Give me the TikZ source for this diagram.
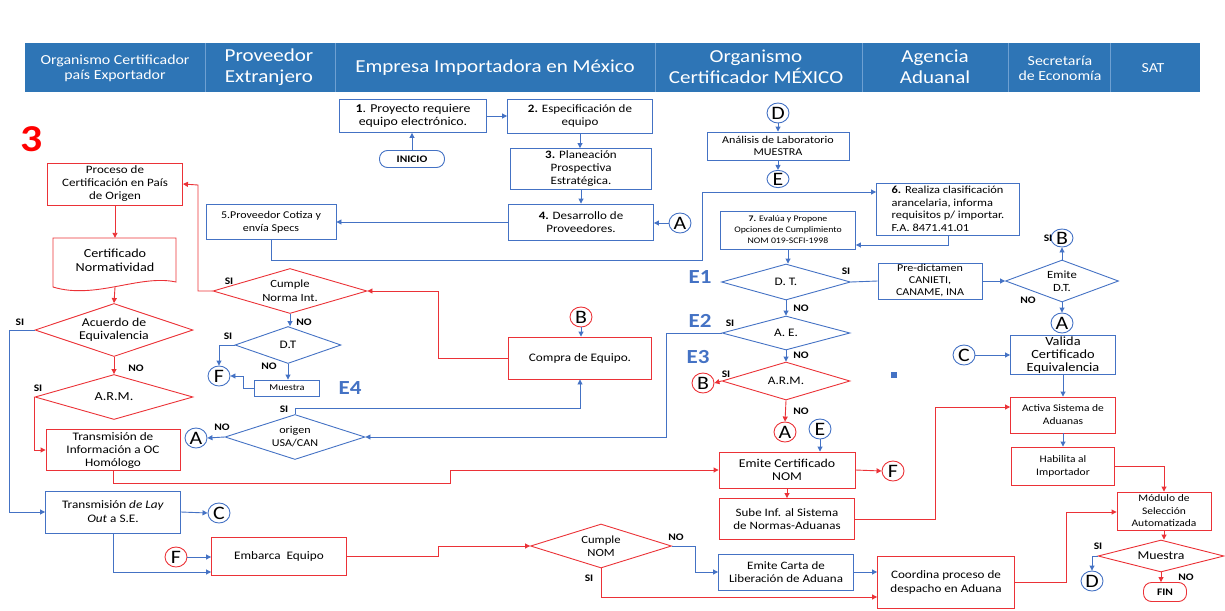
\documentclass[tikz,border=0pt]{standalone}
\usepackage{fontspec}
\setmainfont{Carlito}[FakeStretch=1.15]
\usetikzlibrary{shapes.geometric,arrows.meta}
\definecolor{hdrblue}{RGB}{46,117,182}
\definecolor{hdrline}{RGB}{110,160,210}
\definecolor{lnblue}{RGB}{68,114,196}
\definecolor{lnred}{RGB}{235,50,55}
\begin{document}
\begin{tikzpicture}[x=1pt, y=-1pt,
  bx/.style={draw=lnblue, line width=0.9pt, align=center, inner sep=1pt, font=\fontsize{11.3}{13}\selectfont},
  rbx/.style={bx, draw=lnred},
  dia/.style={draw=lnblue, line width=0.9pt, shape=diamond, inner sep=0pt, align=center, font=\fontsize{11.5}{13}\selectfont},
  rdia/.style={dia, draw=lnred},
  con/.style={draw=lnblue, line width=0.9pt, ellipse, inner sep=0pt, minimum width=22, minimum height=20, font=\fontsize{19}{19}\selectfont},
  rcon/.style={con, draw=lnred},
  term/.style={line width=0.9pt, rounded corners=8pt, inner sep=0pt, font=\fontsize{10}{10}\selectfont\bfseries},
  bar/.style={lnblue, line width=0.9pt, -{Triangle[length=5pt,width=5pt]}},
  rar/.style={lnred, line width=0.9pt, -{Triangle[length=5pt,width=5pt]}},
  bl/.style={lnblue, line width=0.9pt},
  rl/.style={lnred, line width=0.9pt},
  yn/.style={font=\fontsize{10}{10}\selectfont\bfseries, inner sep=0pt},
  etag/.style={text=lnblue, font=\fontsize{20}{20}\selectfont\bfseries, inner sep=0pt},
  hd/.style={text=white, align=center, font=\fontsize{18.3}{21}\selectfont},
  hds/.style={hd, font=\fontsize{13.8}{15}\selectfont}]
\useasboundingbox (0,0) rectangle (1225,610);
\fill[hdrblue] (25,43) rectangle (1200,92);
\foreach \xd in {205,335,655,862,1008,1110}
  \draw[hdrline, line width=0.6pt] (\xd,43) -- (\xd,92);
\node[hds] (h1) at (115,68) {Organismo Certificador\\país Exportador};
\node[hd] (h2) at (269,67) {Proveedor\\Extranjero};
\node[hd] (h3) at (495,68) {Empresa Importadora en México};
\node[hd] (h4) at (756,67) {Organismo\\Certificador MÉXICO};
\node[hd] (h5) at (935,67) {Agencia\\Aduanal};
\node[hds] (h6) at (1060,68) {Secretaría\\de Economía};
\node[hds] (h7) at (1153,68) {SAT};
\node[text=red, font=\fontsize{38}{38}\selectfont\bfseries] (num) at (32,139) {3};

\node[bx, font=\fontsize{12}{13}\selectfont, minimum width=147, minimum height=33] (p1) at (413,116) {\textbf{1}. Proyecto requiere\\equipo electrónico.};
\node[term, draw=lnblue, minimum width=65, minimum height=17] (ini) at (412,159) {INICIO};
\node[bx, minimum width=145, minimum height=34] (p2) at (580,116) {\textbf{2.} Especificación de\\equipo};
\node[bx, minimum width=141, minimum height=41] (p3) at (581,169) {\textbf{3.} Planeación\\Prospectiva\\Estratégica.};
\node[bx, minimum width=145, minimum height=36] (p4) at (581,222) {\textbf{4.} Desarrollo de\\Proveedores.};
\node[con] (ca1) at (680,223) {A};
\node[bx, font=\fontsize{10.4}{13}\selectfont, minimum width=130, minimum height=35] (p5) at (271,222) {5.Proveedor Cotiza y\\envía Specs};
\node[con] (cd1) at (778,113) {D};
\node[bx, font=\fontsize{10.5}{12.5}\selectfont, minimum width=142, minimum height=28] (lab) at (778,146) {Análisis de Laboratorio\\MUESTRA};
\node[con, minimum height=17] (ce1) at (778,179) {E};
\node[bx, font=\fontsize{10.8}{12.5}\selectfont, align=left, minimum width=143, minimum height=52] (p6) at (948,209) {\textbf{6.} Realiza clasificación\\arancelaria, informa\\requisitos p/ importar.\\F.A. 8471.41.01};
\node[bx, font=\fontsize{8.5}{11}\selectfont, minimum width=135, minimum height=38] (p7) at (788,230) {\textbf{7.} Evalúa y Propone\\Opciones de Cumplimiento\\NOM 019-SCFI-1998};
\node[dia, minimum width=129, minimum height=36, aspect=3.6] (dt1) at (786,282) {D. T.};
\node[bx, font=\fontsize{10.5}{12}\selectfont, minimum width=104, minimum height=36] (pre) at (930,281) {Pre-dictamen\\CANIETI,\\CANAME, INA};
\node[dia, font=\fontsize{11}{13}\selectfont, minimum width=113, minimum height=42, aspect=2.7] (edt) at (1062,281) {Emite\\D.T.};
\node[con, minimum height=18] (cb1) at (1062,238) {B};
\node[con] (ca2) at (1062,323) {A};
\node[dia, minimum width=128, minimum height=34, aspect=3.7] (ae) at (786,333) {A. E.};
\node[rdia, minimum width=128, minimum height=38, aspect=3.4] (arm1) at (786,381) {A.R.M.};
\node[rcon] (cb2) at (703,383) {B};
\node[rcon] (ca3) at (785,432) {A};
\node[con] (ce2) at (820,429) {E};
\node[rbx, font=\fontsize{12}{13.5}\selectfont, minimum width=136, minimum height=36] (ecn) at (787,470) {Emite Certificado\\NOM};
\node[rcon] (cf1) at (893,471) {F};
\node[rbx, minimum width=135, minimum height=41] (sube) at (787,519) {Sube Inf. al Sistema\\de Normas-Aduanas};
\fill[lnblue] (891,372) rectangle (897,378);

\node[bx, font=\fontsize{12.5}{13}\selectfont, minimum width=105, minimum height=39] (val) at (1063,355) {Valida\\Certificado\\Equivalencia};
\node[con] (cc1) at (964,355) {C};
\node[rbx, font=\fontsize{10}{13}\selectfont, minimum width=105, minimum height=36] (act) at (1063,415) {Activa Sistema de\\Aduanas};
\node[rbx, font=\fontsize{10}{13}\selectfont, minimum width=103, minimum height=38] (hab) at (1063,466) {Habilita al\\Importador};
\node[rbx, font=\fontsize{10}{12.5}\selectfont, minimum width=94, minimum height=38] (mod) at (1164,511) {Módulo de\\Selección\\Automatizada};
\node[rdia, font=\fontsize{12}{14}\selectfont, minimum width=126, minimum height=32, aspect=3.9] (mue) at (1161,556) {Muestra};
\node[con] (cd2) at (1092,581) {D};
\node[term, draw=lnred, minimum width=43, minimum height=19] (fin) at (1165,592) {FIN};
\node[rdia, font=\fontsize{11}{13}\selectfont, minimum width=141, minimum height=44, aspect=3.2] (cnom) at (601,546) {Cumple\\NOM};
\node[bx, minimum width=135, minimum height=36] (carta) at (786,572) {Emite Carta de\\Liberación de Aduana};
\node[rbx, font=\fontsize{11.4}{14}\selectfont, minimum width=137, minimum height=52] (coord) at (946,582) {Coordina proceso de\\despacho en Aduana};

\node[rbx, font=\fontsize{11.5}{13}\selectfont, minimum width=135, minimum height=38] (emb) at (279,556) {Embarca~~Equipo};
\node[rcon] (cf2) at (176,557) {F};
\node[bx, font=\fontsize{11.5}{14}\selectfont, minimum width=135, minimum height=42] (lay) at (113,512) {Transmisión \textit{de Lay}\\\textit{Out} a S.E.};
\node[con] (cc2) at (219,513) {C};
\node[rbx, font=\fontsize{11.5}{13}\selectfont, minimum width=134, minimum height=41] (tio) at (113,450) {Transmisión de\\Información a OC\\Homólogo};
\node[con] (ca4) at (196,438) {A};
\node[dia, font=\fontsize{10.5}{13}\selectfont, minimum width=140, minimum height=45, aspect=3.1] (orig) at (295,437) {origen\\USA/CAN};
\node[rdia, font=\fontsize{11}{14}\selectfont, minimum width=154, minimum height=45, aspect=3.4] (cni) at (290,291) {Cumple\\Norma Int.};
\node[dia, minimum width=106, minimum height=37, aspect=2.9] (dt2) at (288,345) {D.T};
\node[con] (cf3) at (219,376) {F};
\node[bx, font=\fontsize{9}{10}\selectfont, minimum width=65, minimum height=16] (mst) at (287,388) {Muestra};
\node[rbx, font=\fontsize{11.5}{13}\selectfont, minimum width=143, minimum height=42] (comp) at (580,358) {Compra de Equipo.};
\node[rcon] (cb3) at (581,317) {B};
\node[rbx, minimum width=135, minimum height=42] (proc) at (115,184) {Proceso de\\Certificación en País\\de Origen};
\draw[rl] (53,238) -- (176,238) -- (176,282) .. controls (140,274) and (95,300) .. (53,287) -- cycle;
\node[align=center, inner sep=0pt, font=\fontsize{12.3}{14}\selectfont, minimum width=123, minimum height=44] (certn) at (115,260) {Certificado\\Normatividad};
\node[rdia, font=\fontsize{12}{13}\selectfont, minimum width=158, minimum height=53, aspect=3.0] (acu) at (114,330) {Acuerdo de\\Equivalencia};
\node[rdia, font=\fontsize{12.3}{13}\selectfont, minimum width=158, minimum height=45, aspect=3.5] (arm2) at (114,397) {A.R.M.};

\node[etag] (e1) at (700,277) {E1};
\node[etag] (e2) at (700,321) {E2};
\node[etag] (e3) at (698,357) {E3};
\node[etag] (e4) at (350,388) {E4};

\node[yn] (s1) at (846,271) {SI};
\node[yn] (n1) at (801,308) {NO};
\node[yn] (s2) at (730,323) {SI};
\node[yn] (n2) at (801,355) {NO};
\node[yn] (s3) at (726,374) {SI};
\node[yn] (n3) at (801,411) {NO};
\node[yn] (s4) at (1048,238) {SI};
\node[yn] (n4) at (1028,300) {NO};
\node[yn] (n5) at (676,537) {NO};
\node[yn] (s5) at (589,578) {SI};
\node[yn] (s6) at (1098,546) {SI};
\node[yn] (n6) at (1186,577) {NO};
\node[yn] (s7) at (229,281) {SI};
\node[yn] (n7) at (304,322) {NO};
\node[yn] (s8) at (228,336) {SI};
\node[yn] (n8) at (269,366) {NO};
\node[yn] (n9) at (222,427) {NO};
\node[yn] (s9) at (284,409) {SI};
\node[yn] (s10) at (20,322) {SI};
\node[yn] (n10) at (136,368) {NO};
\node[yn] (s11) at (38,388) {SI};

\draw[bar] (ini.north) -- (ini.north |- p1.south);
\draw[bar] (p1.east) -- (p2.west);
\draw[bar] (p2.south) -- (p2.south |- p3.north);
\draw[bar] (p3.south) -- (p3.south |- p4.north);
\draw[bar] (ca1.west) -- (ca1.west -| p4.east);
\draw[bar] (p4.west) -- (p4.west -| p5.east);
\draw[bar] (p5.south) |- (702,260) |- (p6.west |- 0,192);
\draw[bar] (cd1.south) -- (lab.north);
\draw[bar] (lab.south) -- (ce1.north);
\draw[bar] (p6.south) |- (p7.east |- 0,245);
\draw[bar] (p7.south) -- (p7.south |- dt1.north);
\draw[bl] (dt1.east) -- (pre.west);
\draw[bar] (pre.east) -- (edt.west);
\draw[bar] (edt.north) -- (cb1.south);
\draw[bar] (edt.south) -- (ca2.north);
\draw[bar] (dt1.south) -- (ae.north);
\draw[bar] (ae.west) -| (666,437) -- (orig.east);
\draw[bar] (ae.south) -- (arm1.north);
\draw[rar] (arm1.west) -- (cb2.east);
\draw[rar] (arm1.south) -- (ca3.north);
\draw[bar] (ce2.south) -- (ce2.south |- ecn.north);
\draw[rar] (ecn.east) -- (cf1.west);
\draw[rar] (ecn.south) -- (sube.north);
\draw[rar] (sube.east) -| (935,407) -- (act.west |- 0,407);
\draw[bar] (cc1.east) -- (val.west);
\draw[bar] (val.south) -- (act.north);
\draw[bar] (act.south) -- (hab.north);
\draw[rar] (hab.east) -| (mod.north);
\draw[rar] (mod.south) -- (mod.south |- mue.north);
\draw[bar] (mue.west) -| (cd2.north);
\draw[rar] (mue.south) -- (mue.south |- fin.north);
\draw[bar] (cnom.east) -- (695,546) |- (carta.west);
\draw[rar] (cnom.south) |- (coord.west |- 0,597);
\draw[bar] (carta.east) -- (carta.east -| coord.west);
\draw[rar] (coord.east) -| (1066,512) -- (mod.west |- 0,512);
\draw[rar] (emb.east) -- (438,556) |- (cnom.west);
\draw[bar] (cf2.east) -- (cf2.east -| emb.west);
\draw[bar] (lay.east) -- (cc2.west);
\draw[bar] (lay.south) |- (emb.west |- 0,572);
\draw[bar] (acu.west) -| (9,512) -- (lay.west);
\draw[rar] (acu.south) -- (arm2.north);
\draw[rar] (arm2.west) |- (tio.west);
\draw[rar] (tio.south) |- (450,483) |- (ecn.west);
\draw[bar] (orig.west) -- (ca4.east);
\draw[bar] (orig.north) -- (orig.north |- 0,408) -| (comp.south);
\draw[bar] (cb3.south) -- (cb3.south |- comp.north);
\draw[rar] (comp.west) -| (438,291) -- (cni.east);
\draw[rar] (cni.west) -| (198,185) -- (proc.east);
\draw[bar] (cni.south) -- (cni.south |- dt2.north);
\draw[bar] (dt2.west) -| (cf3.north);
\draw[bar] (dt2.south) -- (dt2.south |- mst.north);
\draw[bar] (mst.west) -- (243,388) |- (cf3.east);
\draw[rar] (proc.south) -- (proc.south |- certn.north);
\draw[rar] ([yshift=-5pt]certn.south) -- (acu.north);
\end{tikzpicture}
\end{document}
